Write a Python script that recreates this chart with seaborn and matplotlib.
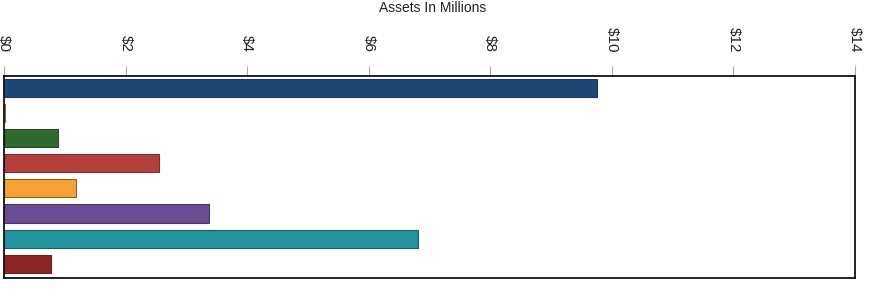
import matplotlib
matplotlib.use("Agg")
import matplotlib.pyplot as plt
import seaborn as sns
import pandas as pd

# Values (millions of dollars)
categories = ["Fund A", "Fund B", "Fund C", "Fund D", "Fund E", "Fund F", "Fund G", "Fund H"]
assets = [9.76, 0.02, 0.89, 2.55, 1.19, 3.37, 6.81, 0.77]
tick_values = [0, 2, 4, 6, 8, 10, 12, 14]
tick_labels = ["$0", "$2", "$4", "$6", "$8", "$10", "$12", "$14"]
colors = ["#1e4878", "#e3b23c", "#2f6a2f", "#b3403f", "#f4a232",
          "#6a4e95", "#21949e", "#8c2626"]

df = pd.DataFrame({"category": categories, "assets": assets})

sns.set_style("white")
plt.rcParams["font.family"] = ["Liberation Sans", "DejaVu Sans"]

fig = plt.figure(figsize=(8.73, 3.07), dpi=100)
ax = fig.add_axes([4 / 873, 1 - 278 / 307, 851 / 873, 202 / 307])

sns.barplot(data=df, x="assets", y="category", hue="category", palette=colors,
            legend=False, width=0.72, orient="h", ax=ax, saturation=1)
for patch, c in zip(ax.patches, colors):
    patch.set_edgecolor(sns.dark_palette(c, n_colors=3)[1])
    patch.set_linewidth(0.8)

ax.set_xlim(0, 14)
ax.set_ylim(7.57, -0.48)
ax.xaxis.tick_top()
ax.set_xticks(tick_values)
ax.set_xticklabels(tick_labels, rotation=-90, fontsize=11, color="#222222")
ax.tick_params(axis="x", direction="out", length=7, width=0.8, color="#aaaaaa",
               pad=10, top=True, bottom=False)
ax.set_yticks([])
ax.set_xlabel("")
ax.set_ylabel("")
for s in ax.spines.values():
    s.set_visible(True)
    s.set_color("#111111")
    s.set_linewidth(1.3)

fig.text(0.495, 1 - 1 / 307, "Assets In Millions", ha="center", va="top",
         fontsize=10, color="#222222")

fig.savefig("out.png", dpi=100)
